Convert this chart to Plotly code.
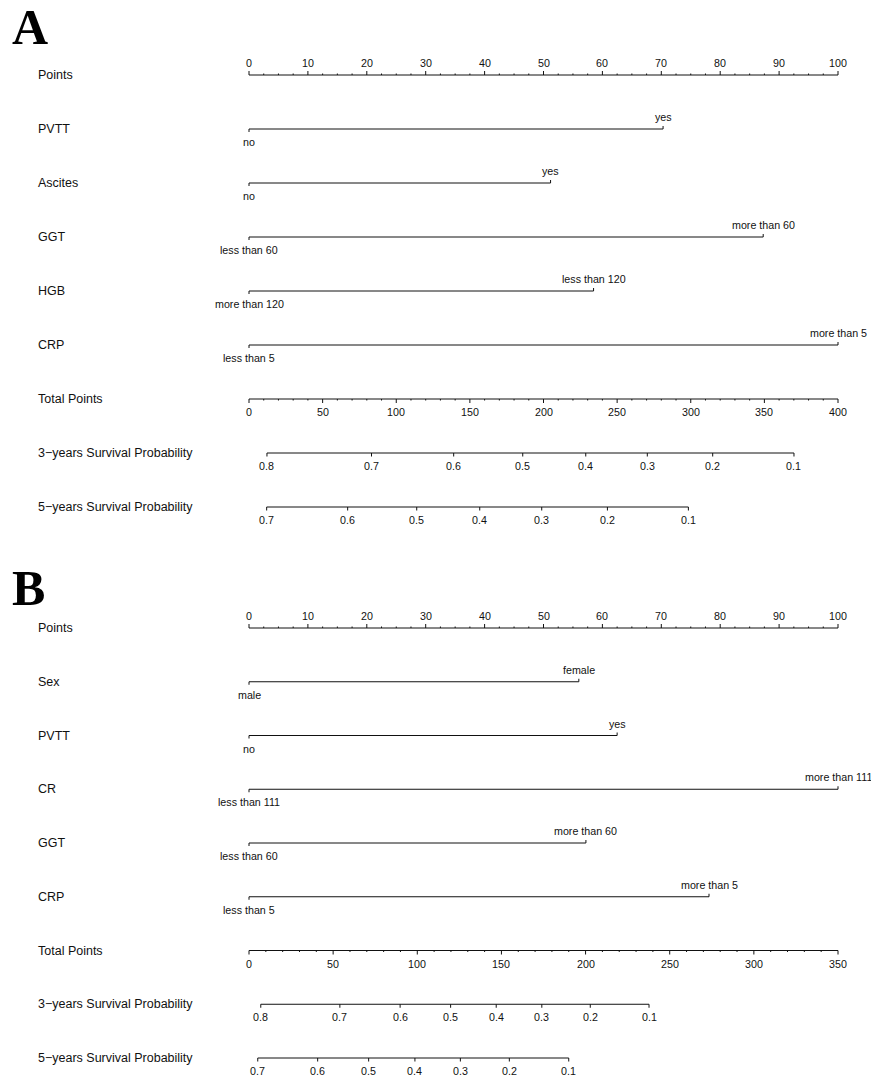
import plotly.graph_objects as go

# ---------------- data ----------------
# Panel A
A_vars = ["PVTT", "Ascites", "GGT", "HGB", "CRP"]
A_low_labels = ["no", "no", "less than 60", "more than 120", "less than 5"]
A_high_labels = ["yes", "yes", "more than 60", "less than 120", "more than 5"]
A_high_points = [70.3, 51.2, 87.3, 58.5, 100.0]
A_total_max = 400
A_surv3_labels = ["0.8", "0.7", "0.6", "0.5", "0.4", "0.3", "0.2", "0.1"]
A_surv3_total = [12.2, 83.2, 139.0, 185.9, 228.7, 270.5, 314.9, 370.1]
A_surv5_labels = ["0.7", "0.6", "0.5", "0.4", "0.3", "0.2", "0.1"]
A_surv5_total = [12.0, 67.0, 113.9, 156.7, 198.8, 243.4, 298.4]

# Panel B
B_vars = ["Sex", "PVTT", "CR", "GGT", "CRP"]
B_low_labels = ["male", "no", "less than 111", "less than 60", "less than 5"]
B_high_labels = ["female", "yes", "more than 111", "more than 60", "more than 5"]
B_high_points = [56.0, 62.5, 100.0, 57.2, 78.1]
B_total_max = 350
B_surv3_labels = ["0.8", "0.7", "0.6", "0.5", "0.4", "0.3", "0.2", "0.1"]
B_surv3_total = [7.0, 54.0, 89.8, 119.8, 146.9, 174.0, 202.8, 237.7]
B_surv5_labels = ["0.7", "0.6", "0.5", "0.4", "0.3", "0.2", "0.1"]
B_surv5_total = [5.2, 40.8, 71.1, 98.6, 125.6, 154.7, 190.0]

POINTS_MAJOR = list(range(0, 101, 10))
POINTS_MINOR_STEP = 2.5
TOTAL_MAJOR_STEP = 50
TOTAL_MINOR_STEP = 10

# ---------------- layout helpers ----------------
W, H = 871, 1078
PX = 1 / 54.0            # one pixel in row units (y)
X0_PX, X1_PX = 249, 838  # pixel span of the 0..100 points scale
XSPAN = 100 * W / (X1_PX - X0_PX)
XR0 = -X0_PX / W * XSPAN
XR1 = XR0 + XSPAN
YMIN = -75 * PX
YMAX = YMIN + H * PX

FONT = "Liberation Sans, Arial, sans-serif"
LINE_COLOR = "#111111"
TEXT_COLOR = "#111111"
TICK_FS = 10.7
ROW_FS = 12.5

fig = go.Figure()
annotations = []


def add_segments(xs, ys):
    fig.add_trace(go.Scatter(x=xs, y=ys, mode="lines", hoverinfo="skip",
                             line=dict(color=LINE_COLOR, width=1),
                             showlegend=False))


def label(x, y, text, size=TICK_FS, xanchor="center", yanchor="middle", xref="x"):
    annotations.append(dict(x=x, y=y, xref=xref, yref="y", text=text,
                            showarrow=False, xanchor=xanchor, yanchor=yanchor,
                            font=dict(family=FONT, size=size, color=TEXT_COLOR)))


def row_label(y, text):
    label(36 / W, y, text, size=ROW_FS, xanchor="left", xref="paper")


def points_axis(y):
    xs, ys = [0, 100, None], [y, y, None]
    n = int(100 / POINTS_MINOR_STEP)
    for k in range(n + 1):
        v = k * POINTS_MINOR_STEP
        major = abs(v % 10) < 1e-9
        ln = 4 if major else 1.5
        xs += [v, v, None]
        ys += [y, y - ln * PX, None]
    add_segments(xs, ys)
    for v in POINTS_MAJOR:
        label(v, y - 12 * PX, str(v))


def total_axis(y, tmax):
    scale = 100.0 / tmax
    xs, ys = [0, 100, None], [y, y, None]
    for v in range(0, tmax + 1, TOTAL_MINOR_STEP):
        major = v % TOTAL_MAJOR_STEP == 0
        ln = 4 if major else 1.5
        xs += [v * scale, v * scale, None]
        ys += [y, y + ln * PX, None]
    add_segments(xs, ys)
    for v in range(0, tmax + 1, TOTAL_MAJOR_STEP):
        label(v * scale, y + 13 * PX, str(v))


def prob_axis(y, totals, labels, tmax):
    scale = 100.0 / tmax
    xp = [t * scale for t in totals]
    xs, ys = [min(xp), max(xp), None], [y, y, None]
    for v in xp:
        xs += [v, v, None]
        ys += [y, y + 3.5 * PX, None]
    add_segments(xs, ys)
    for v, t in zip(xp, labels):
        label(v, y + 13 * PX, t)


def var_row(y, hi, low_text, high_text):
    xs = [0, 0, hi, hi]
    ys = [y + 3 * PX, y, y, y - 3 * PX]
    add_segments(xs, ys)
    label(0, y + 13 * PX, low_text)
    label(hi, y - 12 * PX, high_text)


def panel(y0, step, letter, letter_y, vars_, lows, highs, his, tmax,
          s3_tot, s3_lab, s5_tot, s5_lab):
    rows = [y0 + i * step for i in range(9)]
    annotations.append(dict(x=10 / W, y=letter_y, xref="paper", yref="y",
                            text="<b>%s</b>" % letter, showarrow=False,
                            xanchor="left", yanchor="middle",
                            font=dict(family="Liberation Serif, Times New Roman, serif",
                                      size=50, color="#000000")))
    row_label(rows[0], "Points")
    points_axis(rows[0])
    for i, (v, lo, hi_t, hi) in enumerate(zip(vars_, lows, highs, his)):
        row_label(rows[i + 1], v)
        var_row(rows[i + 1], hi, lo, hi_t)
    row_label(rows[6], "Total Points")
    total_axis(rows[6], tmax)
    row_label(rows[7], "3\u2212years Survival Probability")
    prob_axis(rows[7], s3_tot, s3_lab, tmax)
    row_label(rows[8], "5\u2212years Survival Probability")
    prob_axis(rows[8], s5_tot, s5_lab, tmax)


panel(0.0, 1.0, "A", -48 * PX, A_vars, A_low_labels, A_high_labels,
      A_high_points, A_total_max, A_surv3_total, A_surv3_labels,
      A_surv5_total, A_surv5_labels)
panel(553 * PX, 53.75 / 54.0, "B", (588 - 75) * PX, B_vars, B_low_labels,
      B_high_labels, B_high_points, B_total_max, B_surv3_total,
      B_surv3_labels, B_surv5_total, B_surv5_labels)

fig.update_layout(
    width=W, height=H,
    margin=dict(l=0, r=0, t=0, b=0),
    paper_bgcolor="white", plot_bgcolor="white",
    xaxis=dict(range=[XR0, XR1], visible=False, fixedrange=True),
    yaxis=dict(range=[YMAX, YMIN], visible=False, fixedrange=True),
    annotations=annotations,
    showlegend=False,
)

fig.write_html(
    "out.html",
    config={"displayModeBar": False},
    post_script="document.body.style.margin='0';document.body.style.overflow='hidden';",
)
